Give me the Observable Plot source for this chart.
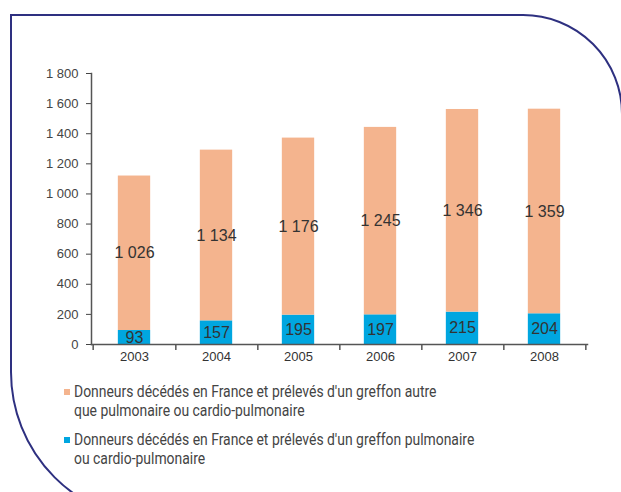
<!DOCTYPE html>
<html>
<head>
<meta charset="utf-8">
<script src="https://cdn.jsdelivr.net/npm/d3@7"></script>
<script src="https://cdn.jsdelivr.net/npm/@observablehq/plot@0.6"></script>
<style>
  html, body { margin: 0; padding: 0; background: #fff; overflow: hidden; width: 621px; height: 492px; }
  #wrap { position: relative; width: 621px; height: 492px; }
  #frame { position: absolute; left: 10px; top: 14px; width: 613px; height: 508px; box-sizing: border-box;
           border: 2px solid #2e3080; border-top-right-radius: 100px; border-bottom-left-radius: 150px; }
  #chart { position: absolute; left: 0; top: 0; }
  #legend { position: absolute; left: 64px; top: 382px; font-family: Roboto, "Liberation Sans", sans-serif;
            font-size: 16px; line-height: 19px; color: #444; }
  .item { position: relative; padding-left: 10px; margin-bottom: 10px; }
  .txt { display: inline-block; transform: scaleX(0.87); transform-origin: 0 0; white-space: nowrap; }
  .sw { position: absolute; left: 0; top: 7px; width: 6px; height: 6px; }
</style>
</head>
<body>
<div id="wrap">
  <div id="frame"></div>
  <div id="chart"></div>
  <div id="legend"></div>
</div>
<script>
const years = ["2003", "2004", "2005", "2006", "2007", "2008"];
const pulmonaire = [93, 157, 195, 197, 215, 204];
const autre = [1026, 1134, 1176, 1245, 1346, 1359];
const seriesKeys = ["autre", "pulmonaire"];
const seriesLabels = [
  ["Donneurs décédés en France et prélevés d'un greffon autre", "que pulmonaire ou cardio-pulmonaire"],
  ["Donneurs décédés en France et prélevés d'un greffon pulmonaire", "ou cardio-pulmonaire"]
];
const seriesColors = ["#f4b48e", "#00a6e0"];
const yTicks = [0, 200, 400, 600, 800, 1000, 1200, 1400, 1600, 1800];

const fr = d3.formatLocale({decimal: ",", thousands: " ", grouping: [3], currency: ["", " €"]});
const fmt = fr.format(",d");

const data = years.flatMap((yr, i) => [
  {year: yr, type: "pulmonaire", value: pulmonaire[i]},
  {year: yr, type: "autre", value: autre[i]}
]);

const W = 621, H = 370, ML = 91, MR = 34, MT = 73, MB = 26;
const bw = (W - ML - MR) / years.length;
const inset = (bw - 33) / 2;

const chart = Plot.plot({
  width: W, height: H,
  marginLeft: ML, marginRight: MR, marginTop: MT, marginBottom: MB,
  style: {fontFamily: "'Liberation Sans', Arial, sans-serif", fontSize: "13px", color: "#333", background: "transparent", overflow: "visible"},
  x: {domain: years, padding: 0},
  y: {domain: [0, 1800]},
  color: {domain: seriesKeys, range: seriesColors},
  marks: [
    Plot.barY(data, {x: "year", y: "value", fill: "type", insetLeft: inset, insetRight: inset}),
    Plot.text(data, Plot.stackY({x: "year", y: "value", z: "type", text: d => fmt(d.value), fontSize: 16, fill: "#333"})),
    Plot.axisY({ticks: yTicks, tickSize: 5, tickPadding: 8, tickFormat: fmt, fontSize: 13, color: "#444", label: null}),
    Plot.axisX({tickSize: 0, tickPadding: 7, fontSize: 13, color: "#333", label: null}),
    Plot.ruleX(years, {x: d => d, dx: bw / 2, y1: 0, y2: -40, stroke: "#555", strokeWidth: 1.5}),
    Plot.ruleX([years[0]], {x: d => d, dx: -bw / 2, y1: 0, y2: -40, stroke: "#555", strokeWidth: 1.5}),
    Plot.frame({anchor: "left", stroke: "#555", strokeWidth: 1.5}),
    Plot.frame({anchor: "bottom", stroke: "#555", strokeWidth: 1.5})
  ]
});
document.getElementById("chart").appendChild(chart);

const legend = document.getElementById("legend");
seriesKeys.forEach((k, i) => {
  const item = document.createElement("div");
  item.className = "item";
  const sw = document.createElement("span");
  sw.className = "sw";
  sw.style.background = seriesColors[i];
  item.appendChild(sw);
  const txt = document.createElement("span");
  txt.className = "txt";
  seriesLabels[i].forEach((line, j) => {
    if (j) txt.appendChild(document.createElement("br"));
    txt.appendChild(document.createTextNode(line));
  });
  item.appendChild(txt);
  legend.appendChild(item);
});
</script>
</body>
</html>
